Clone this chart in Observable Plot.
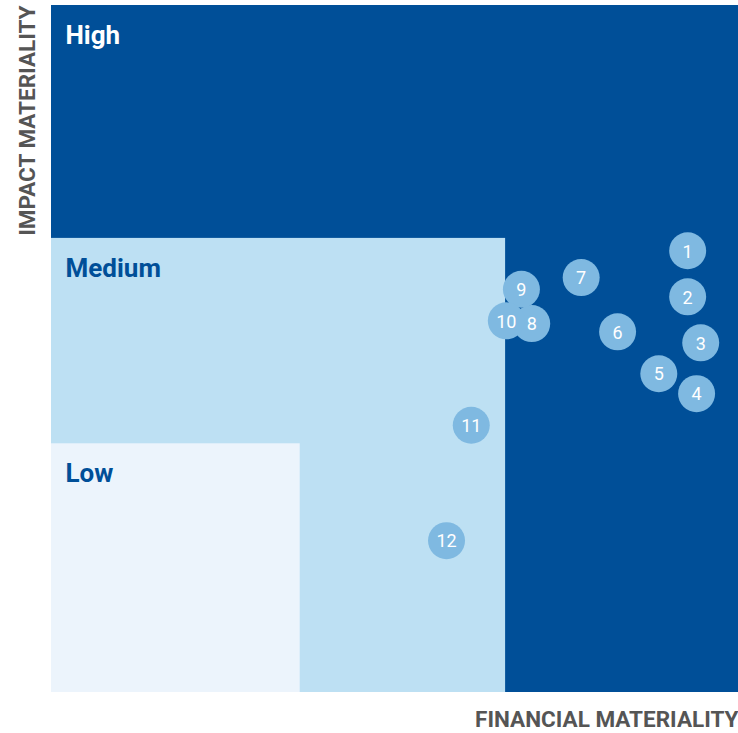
<!DOCTYPE html>
<html><head><meta charset="utf-8">
<script src="https://cdn.jsdelivr.net/npm/d3@7"></script>
<script src="https://cdn.jsdelivr.net/npm/@observablehq/plot@0.6"></script>
<style>body{margin:0;background:#fff}</style>
</head><body><div id="chart"></div>
<script>
const levels = ["High", "Medium", "Low"];
const levelMax = [100, 66.1, 36.2];
const levelFill = ["#004f98", "#bde0f3", "#ecf4fc"];
const levelText = ["#ffffff", "#004f98", "#004f98"];

const ids = [1, 2, 3, 4, 5, 6, 7, 8, 9, 10, 11, 12];
const financial = [92.6, 92.6, 94.5, 93.9, 88.4, 82.4, 77.1, 69.9, 68.4, 66.2, 61.1, 57.5];
const impact = [64.3, 57.6, 50.9, 43.5, 46.4, 52.5, 60.4, 53.7, 58.7, 54.1, 38.9, 22.1];

const regions = levels.map((l, i) => ({name: l, max: levelMax[i], fill: levelFill[i], color: levelText[i]}));
const topics = ids.map((id, i) => ({id, x: financial[i], y: impact[i]}));

const font = "Roboto, 'Open Sans', sans-serif";
const chart = Plot.plot({
  width: 738, height: 733,
  marginLeft: 51, marginRight: 0, marginTop: 5, marginBottom: 41,
  x: {domain: [0, 100], axis: null},
  y: {domain: [0, 100], axis: null},
  style: {fontFamily: font},
  marks: [
    Plot.rect(regions, {x1: 0, y1: 0, x2: "max", y2: "max", fill: "fill"}),
    Plot.text(regions, {x: 0, y: "max", text: "name", fill: "color", textAnchor: "start", lineAnchor: "top", dx: 14, dy: 20, fontSize: 26, fontWeight: "bold"}),
    Plot.dot(topics, {x: "x", y: "y", r: 18.5, fill: "#7fb9e1"}),
    Plot.text(topics, {x: "x", y: "y", text: "id", fill: "white", fontSize: 18, dy: 1}),
    Plot.text(["FINANCIAL MATERIALITY"], {frameAnchor: "bottom-right", text: d => d, textAnchor: "end", lineAnchor: "middle", dy: 27, fill: "#555", fontSize: 22.5, fontWeight: "bold"}),
    Plot.text(["IMPACT MATERIALITY"], {frameAnchor: "top-left", text: d => d, rotate: -90, textAnchor: "end", lineAnchor: "middle", dx: -24, fill: "#555", fontSize: 22.5, fontWeight: "bold"})
  ]
});
document.getElementById("chart").append(chart);
</script></body></html>
